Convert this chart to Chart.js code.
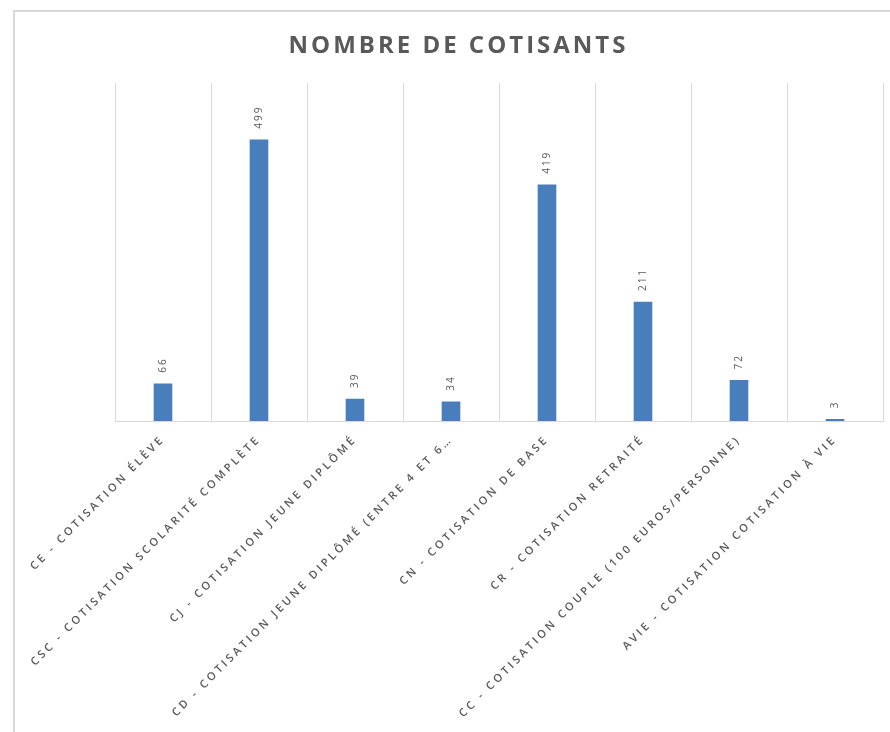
<!DOCTYPE html>
<html>
<head>
<meta charset="utf-8">
<script src="https://cdn.jsdelivr.net/npm/chart.js@4"></script>
<style>
  html, body { margin: 0; padding: 0; background: #ffffff; }
  #wrap { position: relative; width: 890px; height: 732px; }
</style>
</head>
<body>
<div id="wrap"><canvas id="c" width="890" height="732"></canvas></div>
<script>
const categories = [
  "CE - COTISATION ÉLÈVE",
  "CSC - COTISATION SCOLARITÉ COMPLÈTE",
  "CJ - COTISATION JEUNE DIPLÔMÉ",
  "CD - COTISATION JEUNE DIPLÔMÉ (ENTRE 4 ET 6…",
  "CN - COTISATION DE BASE",
  "CR - COTISATION RETRAITÉ",
  "CC - COTISATION COUPLE (100 EUROS/PERSONNE)",
  "AVIE - COTISATION COTISATION À VIE"
];
const cotisants = [66, 499, 39, 34, 419, 211, 72, 3];
const chartTitle = "NOMBRE DE COTISANTS";

const SPACING = '3px';

const spacing = {
  id: 'spacing',
  beforeUpdate(chart) { chart.ctx.letterSpacing = SPACING; },
  beforeLayout(chart) { chart.ctx.letterSpacing = SPACING; },
  beforeDraw(chart) { chart.ctx.letterSpacing = SPACING; }
};

const frame = {
  id: 'frame',
  beforeDraw(chart) {
    const ctx = chart.ctx;
    ctx.save();
    ctx.strokeStyle = '#d9d9d9';
    ctx.lineWidth = 2;
    ctx.beginPath();
    ctx.moveTo(14, 740);
    ctx.lineTo(14, 11);
    ctx.lineTo(900, 11);
    ctx.stroke();
    ctx.restore();
  }
};

const valueLabels = {
  id: 'valueLabels',
  afterDatasetsDraw(chart) {
    const ctx = chart.ctx;
    const meta = chart.getDatasetMeta(0);
    ctx.save();
    ctx.letterSpacing = '2px';
    ctx.fillStyle = '#595959';
    ctx.font = '10px "Open Sans", sans-serif';
    ctx.textAlign = 'left';
    ctx.textBaseline = 'middle';
    meta.data.forEach((bar, i) => {
      ctx.save();
      ctx.translate(bar.x, bar.y - 11);
      ctx.rotate(-Math.PI / 2);
      ctx.fillText(String(chart.data.datasets[0].data[i]), 0, 0);
      ctx.restore();
    });
    ctx.restore();
  }
};

const canvas = document.getElementById('c');

new Chart(canvas, {
  type: 'bar',
  data: {
    labels: categories,
    datasets: [{
      data: cotisants,
      backgroundColor: '#4a7ebb',
      borderWidth: 0,
      barThickness: 18
    }]
  },
  options: {
    responsive: false,
    animation: false,
    events: [],
    layout: { padding: { left: 34, right: 7, top: 0, bottom: 0 } },
    plugins: {
      legend: { display: false },
      tooltip: { enabled: false },
      title: {
        display: true,
        text: chartTitle,
        color: '#595959',
        font: { family: '"Open Sans", sans-serif', size: 24, weight: 'bold' },
        padding: { top: 32, bottom: 22 }
      }
    },
    scales: {
      x: {
        grid: { display: true, offset: true, color: '#d9d9d9', lineWidth: 1, drawTicks: false },
        border: { display: true, color: '#d9d9d9', width: 1 },
        ticks: {
          color: '#595959',
          font: { family: '"Open Sans", sans-serif', size: 11, weight: '600' },
          autoSkip: false,
          minRotation: 45,
          maxRotation: 45,
          padding: 12
        },
        afterFit(s) { s.height = 311; s.paddingLeft = 0; s.paddingRight = 0; }
      },
      y: {
        min: 0,
        max: 600,
        grid: { display: false },
        border: { display: false },
        ticks: { display: false },
        afterFit(s) { s.width = 81; }
      }
    }
  },
  plugins: [spacing, frame, valueLabels]
});
</script>
</body>
</html>
